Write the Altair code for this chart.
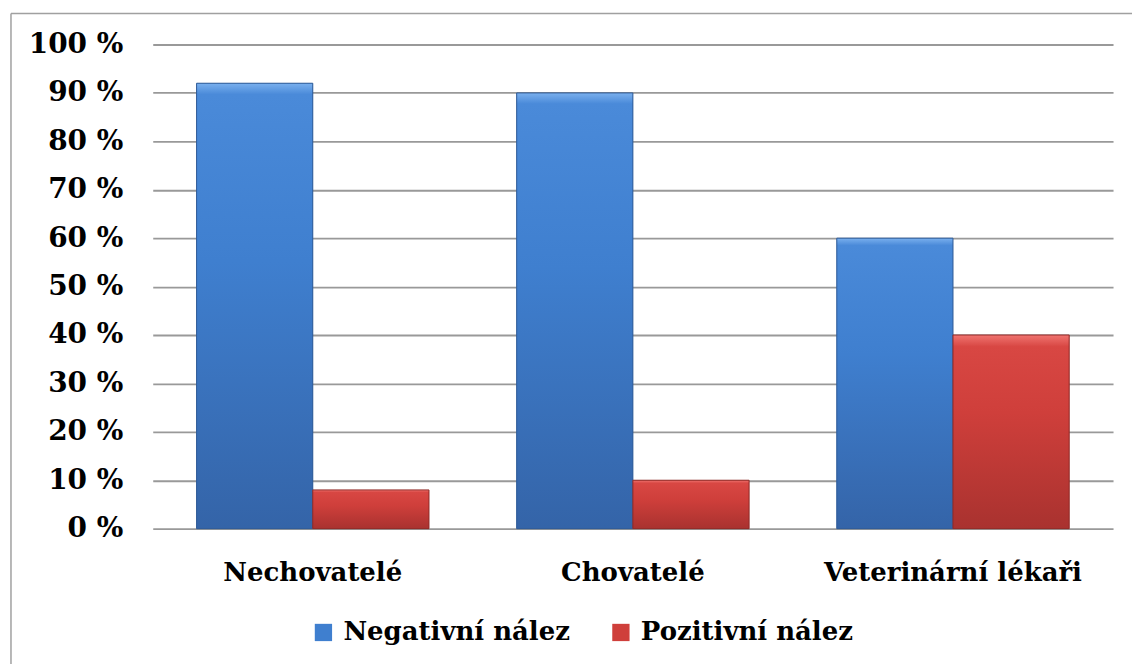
import altair as alt
import pandas as pd

# Survey groups and the share of negative / positive findings (%)
categories = ["Nechovatelé", "Chovatelé", "Veterinární lékaři"]
series = ["Negativní nález", "Pozitivní nález"]
negative = [92, 90, 60]
positive = [8, 10, 40]
y_ticks = [0, 10, 20, 30, 40, 50, 60, 70, 80, 90, 100]

rows = []
for cat, neg, pos in zip(categories, negative, positive):
    rows.append({"skupina": cat, "nalez": series[0], "podil": neg})
    rows.append({"skupina": cat, "nalez": series[1], "podil": pos})
df = pd.DataFrame(rows)

FONT = "DejaVu Serif"
FS_Y = 28
FS_X = 26
FS_LEG = 26
W, H = 962, 485

blue_grad = alt.Gradient(
    gradient="linear", x1=0, x2=0, y1=0, y2=1,
    stops=[
        alt.GradientStop(color="#7ab0ee", offset=0),
        alt.GradientStop(color="#4a8ad9", offset=0.025),
        alt.GradientStop(color="#3f7fcf", offset=0.4),
        alt.GradientStop(color="#3464a8", offset=1),
    ],
)
red_grad = alt.Gradient(
    gradient="linear", x1=0, x2=0, y1=0, y2=1,
    stops=[
        alt.GradientStop(color="#f07470", offset=0),
        alt.GradientStop(color="#d84743", offset=0.06),
        alt.GradientStop(color="#cf3f3b", offset=0.4),
        alt.GradientStop(color="#a9322f", offset=1),
    ],
)

x_enc = alt.X(
    "skupina:N", sort=categories, title=None,
    scale=alt.Scale(paddingInner=0.274, paddingOuter=0.137),
    axis=alt.Axis(labelAngle=0, labelFont=FONT, labelFontWeight="bold",
                  labelFontSize=FS_X, labelColor="black", labelPadding=31,
                  labelLimit=0, domain=False, ticks=False, grid=False),
)
xoff_enc = alt.XOffset(
    "nalez:N", sort=series,
    scale=alt.Scale(domain=series, paddingInner=0, paddingOuter=0),
)
y_enc = alt.Y(
    "podil:Q", title=None,
    scale=alt.Scale(domain=[0, 100], nice=False),
    axis=alt.Axis(values=y_ticks, labelExpr="datum.value + ' %'",
                  labelFont=FONT, labelFontWeight="bold", labelFontSize=FS_Y,
                  labelColor="black", labelPadding=30, labelLimit=0,
                  domain=False, ticks=False, grid=True, gridColor="#999999",
                  gridWidth=1.8),
)

base = alt.Chart(df).encode(x=x_enc, xOffset=xoff_enc, y=y_enc)

# solid bars carry the legend; gradient bars are painted on top
legend_bars = base.mark_bar().encode(
    color=alt.Color(
        "nalez:N", sort=series,
        scale=alt.Scale(domain=series, range=["#3f7fcf", "#cf3f3b"]),
        legend=alt.Legend(
            title=None, orient="none", direction="horizontal",
            legendX=158, legendY=576, labelLimit=0,
            symbolType="square", symbolSize=300, symbolStrokeWidth=0,
            labelFont=FONT, labelFontWeight="bold", labelFontSize=FS_LEG,
            labelColor="black", labelOffset=7, columnPadding=37,
        ),
    )
)
neg_bars = base.transform_filter(alt.datum.nalez == series[0]).mark_bar(
    fill=blue_grad, stroke="#2f5a96", strokeWidth=1
)
pos_bars = base.transform_filter(alt.datum.nalez == series[1]).mark_bar(
    fill=red_grad, stroke="#8f2a27", strokeWidth=1
)

# outer frame (left and top edges)
frame_df = pd.DataFrame({"k": [0]})
frame_top = alt.Chart(frame_df).mark_rule(color="#a0a0a0", strokeWidth=1.5).encode(
    x=alt.value(-142), x2=alt.value(981), y=alt.value(-31)
)
frame_left = alt.Chart(frame_df).mark_rule(color="#a0a0a0", strokeWidth=1.5).encode(
    x=alt.value(-142), y=alt.value(-31), y2=alt.value(621)
)

chart = alt.layer(
    legend_bars, neg_bars, pos_bars, frame_top, frame_left
).properties(
    width=W, height=H,
    padding={"left": 10, "top": 12, "right": 0, "bottom": 0},
    background="white",
).configure_view(stroke=None)

chart.save("out.html", embed_options={"renderer": "svg", "actions": False})
